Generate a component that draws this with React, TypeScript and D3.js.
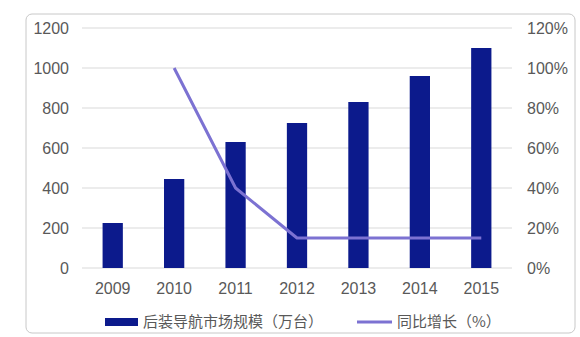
import React from "react";
import * as d3 from "d3";

const years = ["2009", "2010", "2011", "2012", "2013", "2014", "2015"];
const marketSize = [225, 445, 630, 725, 830, 960, 1100];
const growthYears = ["2010", "2011", "2012", "2013", "2014", "2015"];
const growth = [100, 40, 15, 15, 15, 15];
const leftTicks = [0, 200, 400, 600, 800, 1000, 1200];
const rightTicks = [0, 20, 40, 60, 80, 100, 120];
const legendBar = "后装导航市场规模（万台）";
const legendLine = "同比增长（%）";

export default function App() {
  const W = 580, H = 337;
  const x = d3.scaleBand<string>().domain(years).range([82, 512]).paddingInner(0.67).paddingOuter(0.335);
  const yL = d3.scaleLinear().domain([0, 1200]).range([268, 28]);
  const yR = d3.scaleLinear().domain([0, 120]).range([268, 28]);
  const cx = (d: string) => (x(d) as number) + x.bandwidth() / 2;
  const line = d3.line<number>()
    .x((_, i) => cx(growthYears[i]))
    .y((d) => yR(d))
    .curve(d3.curveLinear);
  const font = "'Liberation Sans', Arial, sans-serif";
  const grey = "#595959";
  const cjk = "'Noto Sans CJK SC', sans-serif";
  return (
    <svg width={W} height={H} style={{ position: "absolute", left: 0, top: 0, background: "#fff" }}>
      <rect x={26} y={14} width={549} height={319} rx={6} fill="#fff" stroke="#c8c8c8" strokeWidth={1} />
      {leftTicks.map((t) => (
        <line key={t} x1={82} x2={512} y1={yL(t)} y2={yL(t)} stroke="#d9d9d9" strokeWidth={1} />
      ))}
      {leftTicks.map((t) => (
        <text key={t} x={69} y={yL(t)} dy="0.35em" textAnchor="end" fontSize={16} fontFamily={font} fill={grey}>{t}</text>
      ))}
      {rightTicks.map((t) => (
        <text key={t} x={527} y={yR(t)} dy="0.35em" textAnchor="start" fontSize={16} fontFamily={font} fill={grey}>{t}%</text>
      ))}
      {years.map((y, i) => (
        <rect key={y} x={x(y)} y={yL(marketSize[i])} width={x.bandwidth()} height={yL(0) - yL(marketSize[i])} fill="#0c1a8c" />
      ))}
      <path d={line(growth) || ""} fill="none" stroke="#7c72d2" strokeWidth={3} strokeLinejoin="round" />
      {years.map((y) => (
        <text key={y} x={cx(y)} y={288} dy="0.35em" textAnchor="middle" fontSize={16} fontFamily={font} fill={grey}>{y}</text>
      ))}
      <rect x={105} y={318} width={33} height={8} fill="#0c1a8c" />
      <text x={143} y={322} dy="0.35em" fontSize={15} fontFamily={cjk} fill={grey}>{legendBar}</text>
      <line x1={357} x2={392} y1={322} y2={322} stroke="#7c72d2" strokeWidth={3} />
      <text x={397} y={322} dy="0.35em" fontSize={15} fontFamily={cjk} fill={grey}>{legendLine}</text>
    </svg>
  );
}
